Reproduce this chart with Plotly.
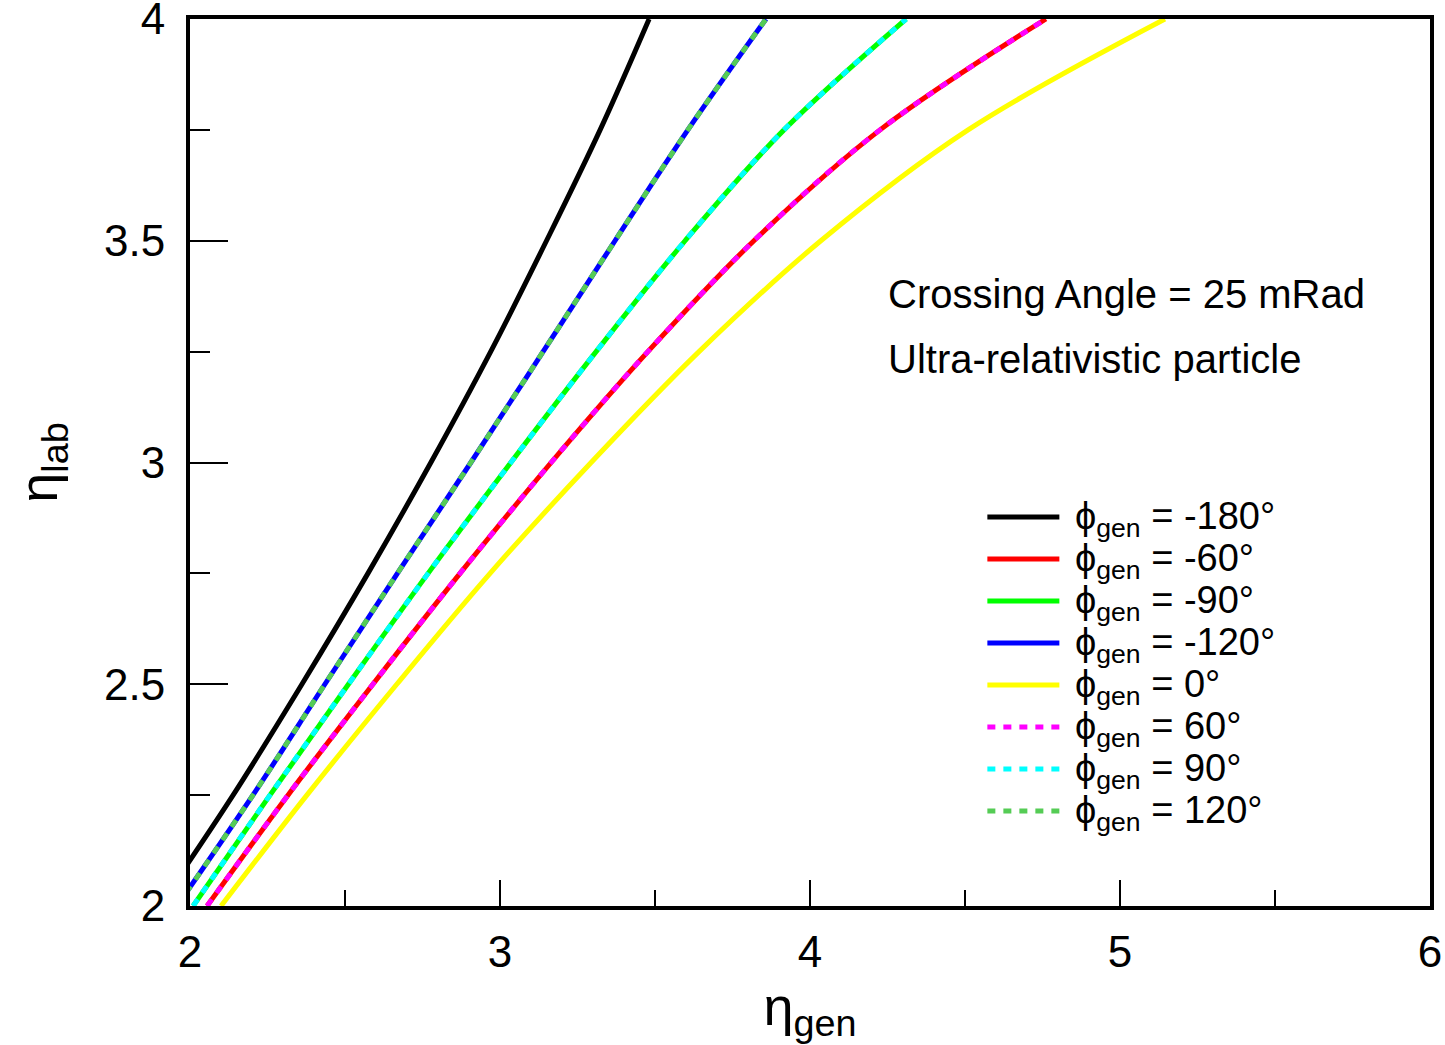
import plotly.graph_objects as go

# eta_lab levels (shared y values) and eta_gen readings for each phi_gen curve
eta_lab = [2.0, 2.25, 2.5, 2.75, 3.0, 3.25, 3.5, 3.75, 4.0]
gen_m180 = [1.900, 2.139, 2.361, 2.574, 2.777, 2.970, 3.150, 3.323, 3.481]
gen_pm120 = [1.958, 2.203, 2.435, 2.669, 2.906, 3.139, 3.371, 3.606, 3.858]
gen_pm90 = [2.010, 2.258, 2.511, 2.768, 3.035, 3.310, 3.597, 3.916, 4.310]
gen_pm60 = [2.055, 2.316, 2.590, 2.871, 3.165, 3.477, 3.819, 4.226, 4.761]
gen_0 = [2.100, 2.377, 2.667, 2.968, 3.294, 3.642, 4.035, 4.510, 5.145]

x_ticks = [2, 3, 4, 5, 6]
y_ticks = [2, 2.5, 3, 3.5, 4]
y_tick_text = ["2", "2.5", "3", "3.5", "4"]

series = [
    ("-180", gen_m180, "#000000", "solid"),
    ("-60", gen_pm60, "#ff0000", "solid"),
    ("-90", gen_pm90, "#00ff00", "solid"),
    ("-120", gen_pm120, "#0000ff", "solid"),
    ("0", gen_0, "#ffff00", "solid"),
    ("60", gen_pm60, "#ff00ff", "8px,8px"),
    ("90", gen_pm90, "#00ffff", "8px,8px"),
    ("120", gen_pm120, "#55cc55", "8px,8px"),
]

FONT = "Liberation Sans, Arial, sans-serif"
fig = go.Figure()
for label, xs, color, dash in series:
    fig.add_trace(go.Scatter(
        x=xs, y=eta_lab, mode="lines",
        line=dict(color=color, width=5, dash=dash, shape="spline"),
        name='<span style="font-size:38px"> ϕ<sub>gen</sub> = ' + label + '°</span>',
    ))

axis_common = dict(
    showgrid=False, zeroline=False, showline=True, linecolor="black", linewidth=4,
    mirror=True, ticks="inside", tickwidth=2, tickcolor="black", automargin=False,
    ticklabeloverflow="allow", tickfont=dict(size=44, family=FONT),
)

fig.update_layout(
    width=1445, height=1045,
    margin=dict(l=190, r=15, t=19, b=139),
    paper_bgcolor="white", plot_bgcolor="white",
    font=dict(family=FONT, color="black"),
    showlegend=True,
    legend=dict(
        x=0.639, y=0.468, xanchor="left", yanchor="top",
        bgcolor="rgba(0,0,0,0)", font=dict(size=30, family=FONT),
        itemwidth=72, tracegroupgap=0,
    ),
    xaxis=dict(
        range=[2, 6], tickvals=x_ticks, ticklen=26, ticklabelstandoff=4,
        minor=dict(ticks="inside", ticklen=16, tickwidth=2, tickcolor="black", dtick=0.5),
        title=dict(text="η<sub>gen</sub>", font=dict(size=54, family=FONT), standoff=4),
        **axis_common,
    ),
    yaxis=dict(
        range=[2, 4], tickvals=y_ticks, ticktext=y_tick_text, ticklen=38, ticklabelstandoff=12,
        minor=dict(ticks="inside", ticklen=20, tickwidth=2, tickcolor="black", dtick=0.25),
        title=dict(text="η<sub>lab</sub>", font=dict(size=54, family=FONT), standoff=30),
        **axis_common,
    ),
    annotations=[
        dict(text="Crossing Angle = 25 mRad", x=4.245, y=3.38, xref="x", yref="y",
             xanchor="left", yanchor="middle", showarrow=False, font=dict(size=40, family=FONT)),
        dict(text="Ultra-relativistic particle", x=4.245, y=3.233, xref="x", yref="y",
             xanchor="left", yanchor="middle", showarrow=False, font=dict(size=40, family=FONT)),
    ],
)

fig.write_html("out.html")
